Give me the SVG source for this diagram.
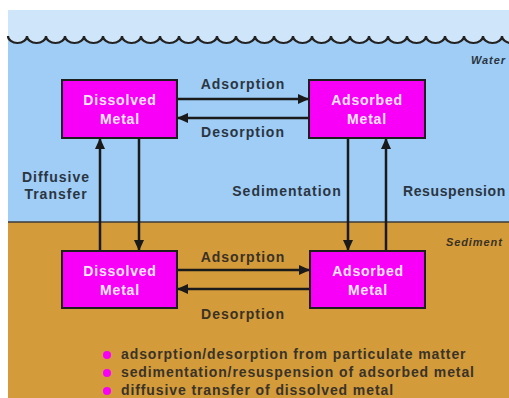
<svg xmlns="http://www.w3.org/2000/svg" width="509" height="398" viewBox="0 0 509 398">
<defs>
<style>
.lbl{font-family:"Liberation Sans",Arial,sans-serif;font-weight:bold;font-size:14px;letter-spacing:1px;fill:#2b3542}
.lbls{font-family:"Liberation Sans",Arial,sans-serif;font-weight:bold;font-size:14px;letter-spacing:1px;fill:#3a3224}
.box{fill:#f800f8;stroke:#1e1e1e;stroke-width:2}
.btx{font-family:"Liberation Sans",Arial,sans-serif;font-weight:bold;font-size:14px;letter-spacing:0.8px;fill:#fde6fd;text-anchor:middle}
.zone{font-family:"Liberation Sans",Arial,sans-serif;font-weight:bold;font-style:italic;font-size:11px;letter-spacing:0.9px}
.bul{font-family:"Liberation Sans",Arial,sans-serif;font-weight:bold;font-size:14px;letter-spacing:0.9px;fill:#3a3328}
.con{stroke:#1a1a1a;stroke-width:2.5;fill:none;marker-end:url(#ah)}
</style>
<marker id="ah" markerUnits="userSpaceOnUse" markerWidth="11" markerHeight="10" refX="11" refY="5" orient="auto">
<path d="M0,0 L11,5 L0,10 z" fill="#1a1a1a"/>
</marker>
</defs>
<rect x="0" y="0" width="509" height="398" fill="#ffffff"/>
<rect x="8" y="10" width="501" height="27" fill="#cfe5f9"/>
<rect x="8" y="36" width="501" height="186" fill="#9fcdf6"/>
<rect x="8" y="222" width="501" height="176" fill="#d49b3b"/>
<line x1="8" y1="222" x2="509" y2="222" stroke="#3a3a3a" stroke-width="1.5"/>
<path id="wave" d="M8,36 a9.5,7 0 0 0 19,0 a9.5,7 0 0 0 19,0 a9.5,7 0 0 0 19,0 a9.5,7 0 0 0 19,0 a9.5,7 0 0 0 19,0 a9.5,7 0 0 0 19,0 a9.5,7 0 0 0 19,0 a9.5,7 0 0 0 19,0 a9.5,7 0 0 0 19,0 a9.5,7 0 0 0 19,0 a9.5,7 0 0 0 19,0 a9.5,7 0 0 0 19,0 a9.5,7 0 0 0 19,0 a9.5,7 0 0 0 19,0 a9.5,7 0 0 0 19,0 a9.5,7 0 0 0 19,0 a9.5,7 0 0 0 19,0 a9.5,7 0 0 0 19,0 a9.5,7 0 0 0 19,0 a9.5,7 0 0 0 19,0 a9.5,7 0 0 0 19,0 a9.5,7 0 0 0 19,0 a9.5,7 0 0 0 19,0 a9.5,7 0 0 0 19,0 a9.5,7 0 0 0 19,0 a9.5,7 0 0 0 19,0 a9.5,7 0 0 0 19,0" fill="#cfe5f9" stroke="#222" stroke-width="2.2"/>
<text class="zone" x="471" y="64" fill="#2b3542">Water</text>
<text class="zone" x="446" y="246" fill="#3a3224">Sediment</text>

<g id="connectors">
<line class="con" x1="177" y1="99" x2="309" y2="99"/>
<line class="con" x1="309" y1="118" x2="177" y2="118"/>
<line class="con" x1="177" y1="270" x2="310" y2="270"/>
<line class="con" x1="310" y1="289" x2="177" y2="289"/>
<line class="con" x1="100" y1="251" x2="100" y2="138"/>
<line class="con" x1="139" y1="138" x2="139" y2="251"/>
<line class="con" x1="348" y1="138" x2="348" y2="251"/>
<line class="con" x1="386" y1="251" x2="386" y2="138"/>
<text class="lbl" x="243" y="89" text-anchor="middle">Adsorption</text>
<text class="lbl" x="243" y="137" text-anchor="middle">Desorption</text>
<text class="lbls" x="243" y="262" text-anchor="middle">Adsorption</text>
<text class="lbls" x="243" y="319" text-anchor="middle">Desorption</text>
<text class="lbl" x="56" y="182" text-anchor="middle">Diffusive</text>
<text class="lbl" x="56" y="199" text-anchor="middle">Transfer</text>
<text class="lbl" x="287" y="196" text-anchor="middle">Sedimentation</text>
<text class="lbl" x="403" y="196" style="letter-spacing:0.6px">Resuspension</text>
</g>

<g id="water-dissolved">
<rect class="box" x="62" y="80" width="115" height="58"/>
<text class="btx" x="120" y="105">Dissolved</text>
<text class="btx" x="120" y="124">Metal</text>
</g>
<g id="water-adsorbed">
<rect class="box" x="309" y="80" width="116" height="58"/>
<text class="btx" x="367" y="105">Adsorbed</text>
<text class="btx" x="367" y="124">Metal</text>
</g>
<g id="sediment-dissolved">
<rect class="box" x="62" y="251" width="115" height="57"/>
<text class="btx" x="120" y="276">Dissolved</text>
<text class="btx" x="120" y="295">Metal</text>
</g>
<g id="sediment-adsorbed">
<rect class="box" x="310" y="251" width="115" height="57"/>
<text class="btx" x="368" y="276">Adsorbed</text>
<text class="btx" x="368" y="295">Metal</text>
</g>

<g id="legend">
<circle cx="107" cy="355" r="4" fill="#f800f8"/>
<circle cx="107" cy="373" r="4" fill="#f800f8"/>
<circle cx="107" cy="391" r="4" fill="#f800f8"/>
<text class="bul" x="121" y="359">adsorption/desorption from particulate matter</text>
<text class="bul" x="121" y="377">sedimentation/resuspension of adsorbed metal</text>
<text class="bul" x="121" y="395">diffusive transfer of dissolved metal</text>
</g>
</svg>
